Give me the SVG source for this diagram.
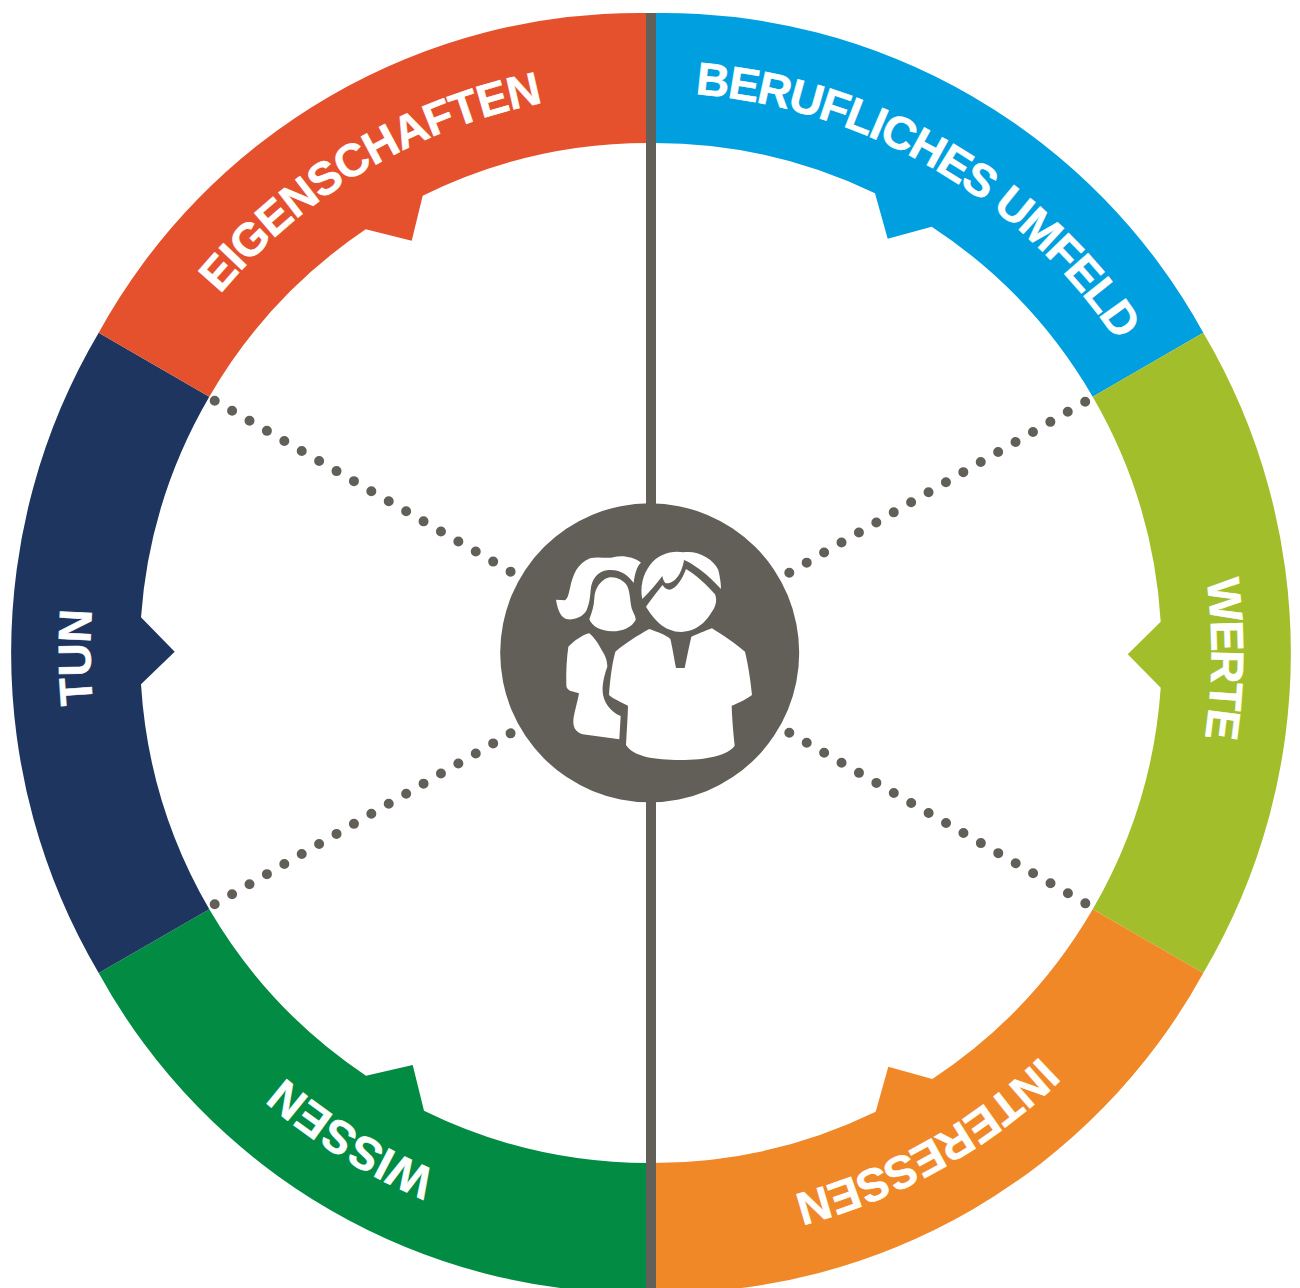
<svg xmlns="http://www.w3.org/2000/svg" width="1300" height="1288" viewBox="0 0 1300 1288">
<style>
.lbl{font-family:"Liberation Sans",Arial,sans-serif;font-weight:700;font-size:46px;fill:#fff;stroke:#fff;stroke-width:.6;text-anchor:middle}
.dots{stroke:#625f59;stroke-width:10;stroke-linecap:round;stroke-dasharray:0 20.1;fill:none}
.ic{fill:#fff}
</style>
<defs>
<path id="tp" d="M651,92.5 A560.5,560.5 0 0 1 651,1213.5 A560.5,560.5 0 0 1 651,92.5 Z"/>
</defs>
<rect width="1300" height="1288" fill="#fff"/>
<g id="node-beruf"><path fill="#009fe0" d="M651,13 A617,617 0 0 1 1203.3,332.7 L1092.7,396.7 A510,510 0 0 0 931.7,226.7 L887.7,238.7 L875,193.3 A510,510 0 0 0 651,143 Z"/></g>
<g id="node-werte"><path fill="#a2bf2b" d="M1203.3,332.7 A629,629 0 0 1 1203.3,973 L1092.7,909.3 A510,510 0 0 0 1160.7,687.7 L1127.7,654.3 L1160.7,621.7 A510,510 0 0 0 1092.7,396.7 Z"/></g>
<g id="node-interessen"><path fill="#f08828" d="M1203.3,973 A617,617 0 0 1 651,1293 L651,1163 A510,510 0 0 0 875.7,1111.7 L888.3,1066.7 L932.3,1079 A510,510 0 0 0 1092.7,909.3 Z"/></g>
<g id="node-wissen"><path fill="#028b43" d="M651,1293 A617,617 0 0 1 98.7,973 L209.3,909.3 A510,510 0 0 0 366,1075.7 L412.7,1065 L424,1110.7 A510,510 0 0 0 651,1163 Z"/></g>
<g id="node-tun"><path fill="#1e365f" d="M98.7,973 A629,629 0 0 1 98.7,332.7 L209.3,396.7 A510,510 0 0 0 141,617.3 L174.7,651.7 L141,684.3 A510,510 0 0 0 209.3,909.3 Z"/></g>
<g id="node-eigenschaften"><path fill="#e5512d" d="M98.7,332.7 A617,617 0 0 1 651,13 L651,143 A510,510 0 0 0 422.7,195.7 L411.7,240.7 L365.7,229.3 A510,510 0 0 0 209.3,396.7 Z"/></g>
<g id="connectors">
<rect x="646" y="13" width="10" height="1275" fill="#625f59"/>
<line class="dots" x1="214.7" y1="400.7" x2="511" y2="571.9"/>
<line class="dots" x1="789.3" y1="572.7" x2="1085.6" y2="401.5"/>
<line class="dots" x1="214.7" y1="904.3" x2="511" y2="733.1"/>
<line class="dots" x1="789.3" y1="732.7" x2="1085.6" y2="903.5"/>
</g>
<g id="labels">
<text class="lbl" letter-spacing="-1.5"><textPath href="#tp" startOffset="8.42%">BERUFLICHES UMFELD</textPath></text>
<text class="lbl" letter-spacing="-1.8"><textPath href="#tp" startOffset="25.14%">WERTE</textPath></text>
<text class="lbl" letter-spacing="-.9"><textPath href="#tp" startOffset="41.83%">INTERESSEN</textPath></text>
<text class="lbl" letter-spacing="-.4"><textPath href="#tp" startOffset="58.79%">WISSEN</textPath></text>
<text class="lbl"><textPath href="#tp" startOffset="74.88%">TUN</textPath></text>
<text class="lbl" letter-spacing="-.9"><textPath href="#tp" startOffset="91.47%">EIGENSCHAFTEN</textPath></text>
</g>
<g id="node-center">
<circle cx="649.7" cy="652.8" r="149.5" fill="#625f59"/>
<g class="ic" transform="translate(490 495) scale(.33333)">
<path d="M198,314 L225,316 C235,310 237,290 240,280 C248,240 262,205 300,190 C325,183 350,192 370,187 C395,180 430,185 453,203 C440,213 434,240 431,264 C415,240 390,222 355,225 C320,228 305,255 302,285 C300,310 298,325 290,345 C280,365 255,375 232,373 C212,368 203,345 198,314 Z"/>
<path d="M345,252 C365,240 395,250 410,270 C420,285 420,320 425,340 C430,355 438,365 437,375 C425,398 395,410 365,409 C335,408 305,395 298,372 C305,355 312,335 313,310 C314,285 325,265 345,252 Z"/>
<path d="M298,415 C310,425 325,445 335,465 C345,480 352,495 352,515 C345,535 337,560 338,590 C340,620 360,650 392,663 L388,733 L278,718 C260,712 250,700 250,680 C250,660 262,625 267,595 L240,587 C232,583 229,578 229,570 C228,530 230,490 235,455 C250,440 275,420 298,415 Z"/>
<path d="M457,312 C450,280 457,240 480,210 C505,175 550,165 580,172 C620,165 670,190 685,225 C690,245 693,265 693,282 C670,255 620,210 582,195 C578,225 560,265 530,265 C525,265 520,258 517,243 C500,265 480,290 457,312 Z"/>
<path d="M468,335 C485,312 505,285 518,270 C522,278 528,284 540,284 C560,280 578,250 588,222 C620,240 650,270 675,298 C680,310 680,325 672,340 C655,370 630,408 575,411 C520,410 490,370 468,335 Z"/>
<path d="M478,402 C500,410 530,420 541,432 C547,455 552,490 558,519 L584,519 C590,490 597,455 604,425 C620,418 645,408 666,400 C695,418 735,445 765,470 C775,510 782,560 786,600 C770,612 745,625 725,632 C726,670 730,715 734,752 C715,780 650,795 570,795 C495,795 430,785 408,750 C410,710 413,670 414,632 C395,622 370,612 357,600 C360,560 365,510 376,470 C405,445 445,420 478,402 Z"/>
</g>
</g>
</svg>
